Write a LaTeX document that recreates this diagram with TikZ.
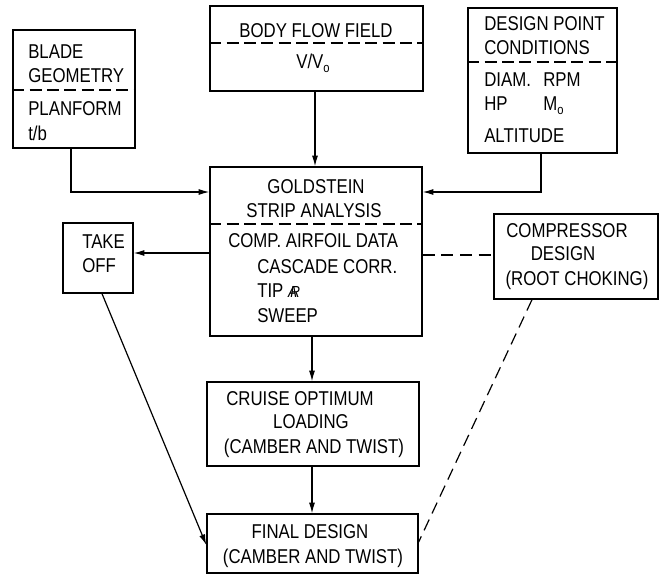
\documentclass[tikz,border=0pt]{standalone}
\usepackage{fontspec}
\setmainfont{Liberation Sans}[FakeStretch=0.84]
\usetikzlibrary{arrows.meta}

\tikzset{
  box/.style={draw, line width=1pt, inner sep=0pt},
  divider/.style={line width=0.9pt, dash pattern=on 9pt off 4pt},
  lbl/.style={anchor=base west, inner sep=0pt, font=\fontsize{15}{17}\selectfont},
  clbl/.style={anchor=base, inner sep=0pt, font=\fontsize{15}{17}\selectfont},
  link/.style={line width=0.9pt, -{Latex[length=8pt,width=4.5pt]}},
  dlink/.style={line width=0.9pt, dash pattern=on 9pt off 5pt},
}
\newcommand{\lowsub}[1]{\raisebox{-0.45ex}{\fontsize{10}{10}\selectfont #1}}
\newcommand{\aspr}{{\itshape\fontsize{12}{12}\selectfont A\kern-0.42em R}}

\begin{document}
\begin{tikzpicture}[x=0.75pt,y=-0.75pt]
  \useasboundingbox (0,0) rectangle (667,575);
  % boxes
  \node[box, minimum width=91.5pt, minimum height=88.5pt] (blade) at (74,89) {};
  \node[box, minimum width=159.75pt, minimum height=63.75pt] (body) at (316.5,48.5) {};
  \node[box, minimum width=111.75pt, minimum height=108.75pt] (design) at (542.5,80.5) {};
  \node[box, minimum width=159pt, minimum height=126.75pt] (gold) at (316,251.5) {};
  \node[box, minimum width=52.5pt, minimum height=52.5pt] (takeoff) at (98,258) {};
  \node[box, minimum width=123pt, minimum height=63.75pt] (comp) at (576,256.5) {};
  \node[box, minimum width=159pt, minimum height=63pt] (cruise) at (313,424) {};
  \node[box, minimum width=158.25pt, minimum height=44.25pt] (final) at (312.5,543.5) {};
  % dashed dividers
  \draw[divider] (blade.west |- 0,90) -- (blade.east |- 0,90);
  \draw[divider] (body.west |- 0,43) -- (body.east |- 0,43);
  \draw[divider] (design.west |- 0,62) -- (design.east |- 0,62);
  \draw[divider] (gold.west |- 0,224) -- (gold.east |- 0,224);
  % texts
  \node[lbl] (bl1) at (28,58) {BLADE};
  \node[lbl] (bl2) at (28,82) {GEOMETRY};
  \node[lbl] (bl3) at (28,115) {PLANFORM};
  \node[lbl] (bl4) at (28,140) {t/b};
  \node[clbl] (bo1) at (316,37) {BODY FLOW FIELD};
  \node[clbl] (bo2) at (313,68) {V/V\lowsub{o}};
  \node[lbl] (de1) at (484,30) {DESIGN POINT};
  \node[lbl] (de2) at (484,54) {CONDITIONS};
  \node[lbl] (de3) at (484,86) {DIAM.};
  \node[lbl] (de4) at (543,86) {RPM};
  \node[lbl] (de5) at (484,110) {HP};
  \node[lbl] (de6) at (543,110) {M\lowsub{o}};
  \node[lbl] (de7) at (484,142) {ALTITUDE};
  \node[clbl] (go1) at (316,193) {GOLDSTEIN};
  \node[clbl] (go2) at (314,217) {STRIP ANALYSIS};
  \node[lbl] (go3) at (228,247) {COMP. AIRFOIL DATA};
  \node[lbl] (go4) at (257,273) {CASCADE CORR.};
  \node[lbl] (go5) at (257,297) {TIP \aspr};
  \node[lbl] (go6) at (257,322) {SWEEP};
  \node[lbl] (ta1) at (82,248) {TAKE};
  \node[lbl] (ta2) at (82,272) {OFF};
  \node[clbl] (co1) at (567,237) {COMPRESSOR};
  \node[clbl] (co2) at (563,260) {DESIGN};
  \node[clbl] (co3) at (577,285) {(ROOT CHOKING)};
  \node[clbl] (cr1) at (300,405) {CRUISE OPTIMUM};
  \node[clbl] (cr2) at (311,428) {LOADING};
  \node[clbl] (cr3) at (314,453) {(CAMBER AND TWIST)};
  \node[clbl] (fi1) at (310,538) {FINAL DESIGN};
  \node[clbl] (fi2) at (313,563) {(CAMBER AND TWIST)};
  % connectors
  \draw[link] (blade.south -| 71,0) |- (gold.west |- 0,192);
  \draw[link] (body.south -| 315,0) -- (gold.north -| 315,0);
  \draw[link] (design.south -| 541,0) |- (gold.east |- 0,192);
  \draw[link] (gold.west |- 0,253) -- (takeoff.east |- 0,253);
  \draw[dlink] (gold.east |- 0,255) -- (comp.west |- 0,255);
  \draw[link] (gold.south -| 312,0) -- (cruise.north -| 312,0);
  \draw[link] (cruise.south -| 312,0) -- (final.north -| 312,0);
  \draw[link] (takeoff.south -| 102,0) -- (final.west |- 0,545);
  \draw[dlink] (comp.south -| 532,0) -- (final.east |- 0,542);
\end{tikzpicture}
\end{document}
